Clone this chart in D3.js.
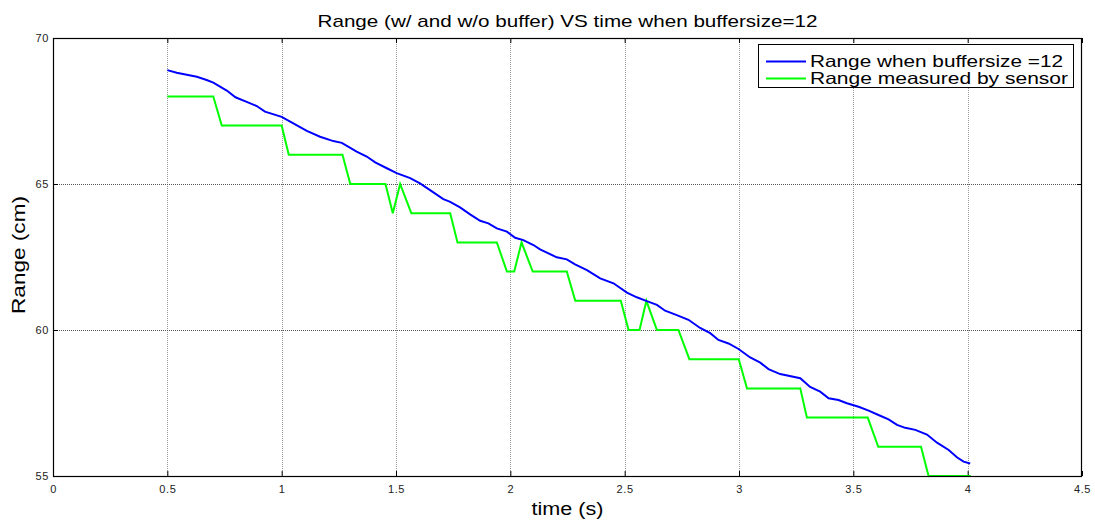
<!DOCTYPE html>
<html><head><meta charset="utf-8">
<script src="https://cdn.jsdelivr.net/npm/d3@7"></script>
<style>body{margin:0;background:#fff}svg{display:block}text{font-family:"Liberation Sans",Arial,sans-serif}</style>
</head><body>
<script>
const title = "Range (w/ and w/o buffer) VS time when buffersize=12";
const xLabel = "time (s)";
const yLabel = "Range (cm)";
const xTicks = [0,0.5,1,1.5,2,2.5,3,3.5,4,4.5];
const yTicks = [55,60,65,70];
const seriesNames = ["Range when buffersize =12", "Range measured by sensor"];
const seriesColors = ["#0000ff", "#00ff00"];

const bufferT = [0.5,0.541,0.629,0.672,0.701,0.760,0.798,0.847,0.891,0.927,1.0,1.051,1.110,1.168,1.226,1.263,1.328,1.372,1.409,1.460,1.503,1.562,1.605,1.649,1.707,1.737,1.780,1.824,1.868,1.904,1.941,1.985,2.021,2.057,2.101,2.130,2.203,2.247,2.283,2.335,2.393,2.451,2.510,2.553,2.597,2.641,2.677,2.728,2.779,2.830,2.874,2.910,2.954,2.998,3.049,3.093,3.129,3.180,3.268,3.311,3.355,3.392,3.435,3.472,3.523,3.567,3.610,3.654,3.691,3.727,3.771,3.822,3.866,3.917,3.953,3.982,4.011];
const bufferV = [68.90,68.81,68.67,68.56,68.47,68.20,67.97,67.81,67.67,67.48,67.30,67.08,66.82,66.62,66.47,66.41,66.11,65.94,65.74,65.54,65.37,65.20,65.02,64.79,64.48,64.39,64.20,63.96,63.74,63.65,63.48,63.37,63.16,63.08,62.91,62.76,62.49,62.42,62.25,62.05,61.77,61.60,61.28,61.12,60.99,60.86,60.66,60.51,60.35,60.07,59.89,59.66,59.54,59.35,59.06,58.88,58.66,58.49,58.35,58.05,57.89,57.66,57.60,57.49,57.37,57.24,57.09,56.94,56.75,56.65,56.58,56.42,56.14,55.89,55.64,55.49,55.43];

const sensorT = [0.5,0.701,0.738,1.0,1.031,1.266,1.30,1.454,1.486,1.518,1.567,1.737,1.769,1.941,1.985,2.017,2.049,2.098,2.247,2.284,2.483,2.517,2.565,2.595,2.641,2.735,2.783,2.999,3.035,3.268,3.297,3.563,3.609,3.796,3.829,4.014];
const sensorV = [68,68,67,67,66,66,65,65,64,65,64,64,63,63,62,62,63,62,62,61,61,60,60,61,60,60,59,59,58,58,57,57,56,56,55,55];

const W = 1095, H = 521;
const m = {left:53, right:1082, top:38, bottom:476};
const svg = d3.select("body").append("svg").attr("width",W).attr("height",H);
const x = d3.scaleLinear().domain([0,4.5]).range([m.left,m.right]);
const y = d3.scaleLinear().domain([55,70]).range([m.bottom,m.top]);

// grid
const g = svg.append("g");
g.selectAll(".vg").data(xTicks.filter(d=>d>0&&d<4.5)).join("line")
  .attr("x1",d=>Math.round(x(d))+0.5).attr("x2",d=>Math.round(x(d))+0.5)
  .attr("y1",m.top).attr("y2",m.bottom)
  .attr("stroke","#999").attr("stroke-dasharray","1,1");
g.selectAll(".hg").data(yTicks.filter(d=>d>55&&d<70)).join("line")
  .attr("y1",d=>Math.round(y(d))+0.5).attr("y2",d=>Math.round(y(d))+0.5)
  .attr("x1",m.left).attr("x2",m.right)
  .attr("stroke","#555").attr("stroke-dasharray","1,1");

// axes
const fmt = d3.format("");
const ax = (gen, tr) => svg.append("g").attr("transform",tr).call(gen);
const styleAxis = sel => { sel.select(".domain").remove(); sel.selectAll("line").attr("stroke","#000"); sel.selectAll("text").attr("font-size",11).attr("letter-spacing","0.6px").attr("fill","#222").attr("font-family","Liberation Sans, Arial, sans-serif"); };
const xb = ax(d3.axisBottom(x).tickValues(xTicks).tickFormat(fmt).tickSizeInner(-5).tickSizeOuter(0).tickPadding(9), `translate(0,${m.bottom})`); styleAxis(xb);
const xt = ax(d3.axisTop(x).tickValues(xTicks).tickFormat("").tickSizeInner(-5).tickSizeOuter(0), `translate(0,${m.top})`); styleAxis(xt);
const yl = ax(d3.axisLeft(y).tickValues(yTicks).tickFormat(fmt).tickSizeInner(-5).tickSizeOuter(0).tickPadding(4), `translate(${m.left},0)`); styleAxis(yl);
const yr = ax(d3.axisRight(y).tickValues(yTicks).tickFormat("").tickSizeInner(-5).tickSizeOuter(0), `translate(${m.right},0)`); styleAxis(yr);

// lines
const lineGen = d3.line().x(d=>x(d[0])).y(d=>y(d[1]));
const bufData = bufferT.map((t,i)=>[t,bufferV[i]]);
const senData = sensorT.map((t,i)=>[t,sensorV[i]]);
svg.append("path").datum(senData).attr("d",lineGen).attr("fill","none").attr("stroke",seriesColors[1]).attr("stroke-width",2);
svg.append("path").datum(bufData).attr("d",lineGen).attr("fill","none").attr("stroke",seriesColors[0]).attr("stroke-width",2);

// frame
svg.append("rect").attr("x",m.left+0.5).attr("y",m.top+0.5).attr("width",m.right-m.left-1).attr("height",m.bottom-m.top)
  .attr("fill","none").attr("stroke","#000").attr("stroke-width",1.2);

// title & labels
svg.append("text").attr("x",(m.left+m.right)/2).attr("y",27).attr("text-anchor","middle").attr("font-size",17)
  .attr("textLength",500).attr("lengthAdjust","spacingAndGlyphs").text(title);
svg.append("text").attr("x",(m.left+m.right)/2).attr("y",515).attr("text-anchor","middle").attr("font-size",18)
  .attr("textLength",72).attr("lengthAdjust","spacingAndGlyphs").text(xLabel);
svg.append("text").attr("transform",`translate(25,255) rotate(-90)`).attr("text-anchor","middle").attr("font-size",19)
  .attr("textLength",118).attr("lengthAdjust","spacingAndGlyphs").text(yLabel);

// legend
const lg = svg.append("g");
lg.append("rect").attr("x",758.5).attr("y",44.5).attr("width",315).attr("height",43).attr("fill","#fff").attr("stroke","#000");
seriesNames.forEach((n,i)=>{
  const yy = 61.5 + i*17;
  lg.append("line").attr("x1",766).attr("x2",806).attr("y1",yy).attr("y2",yy).attr("stroke",seriesColors[i]).attr("stroke-width",2);
  lg.append("text").attr("x",810).attr("y",yy+5.5).attr("font-size",16.5)
    .attr("textLength", i===0?253:258).attr("lengthAdjust","spacingAndGlyphs").text(n);
});
</script>
</body></html>
